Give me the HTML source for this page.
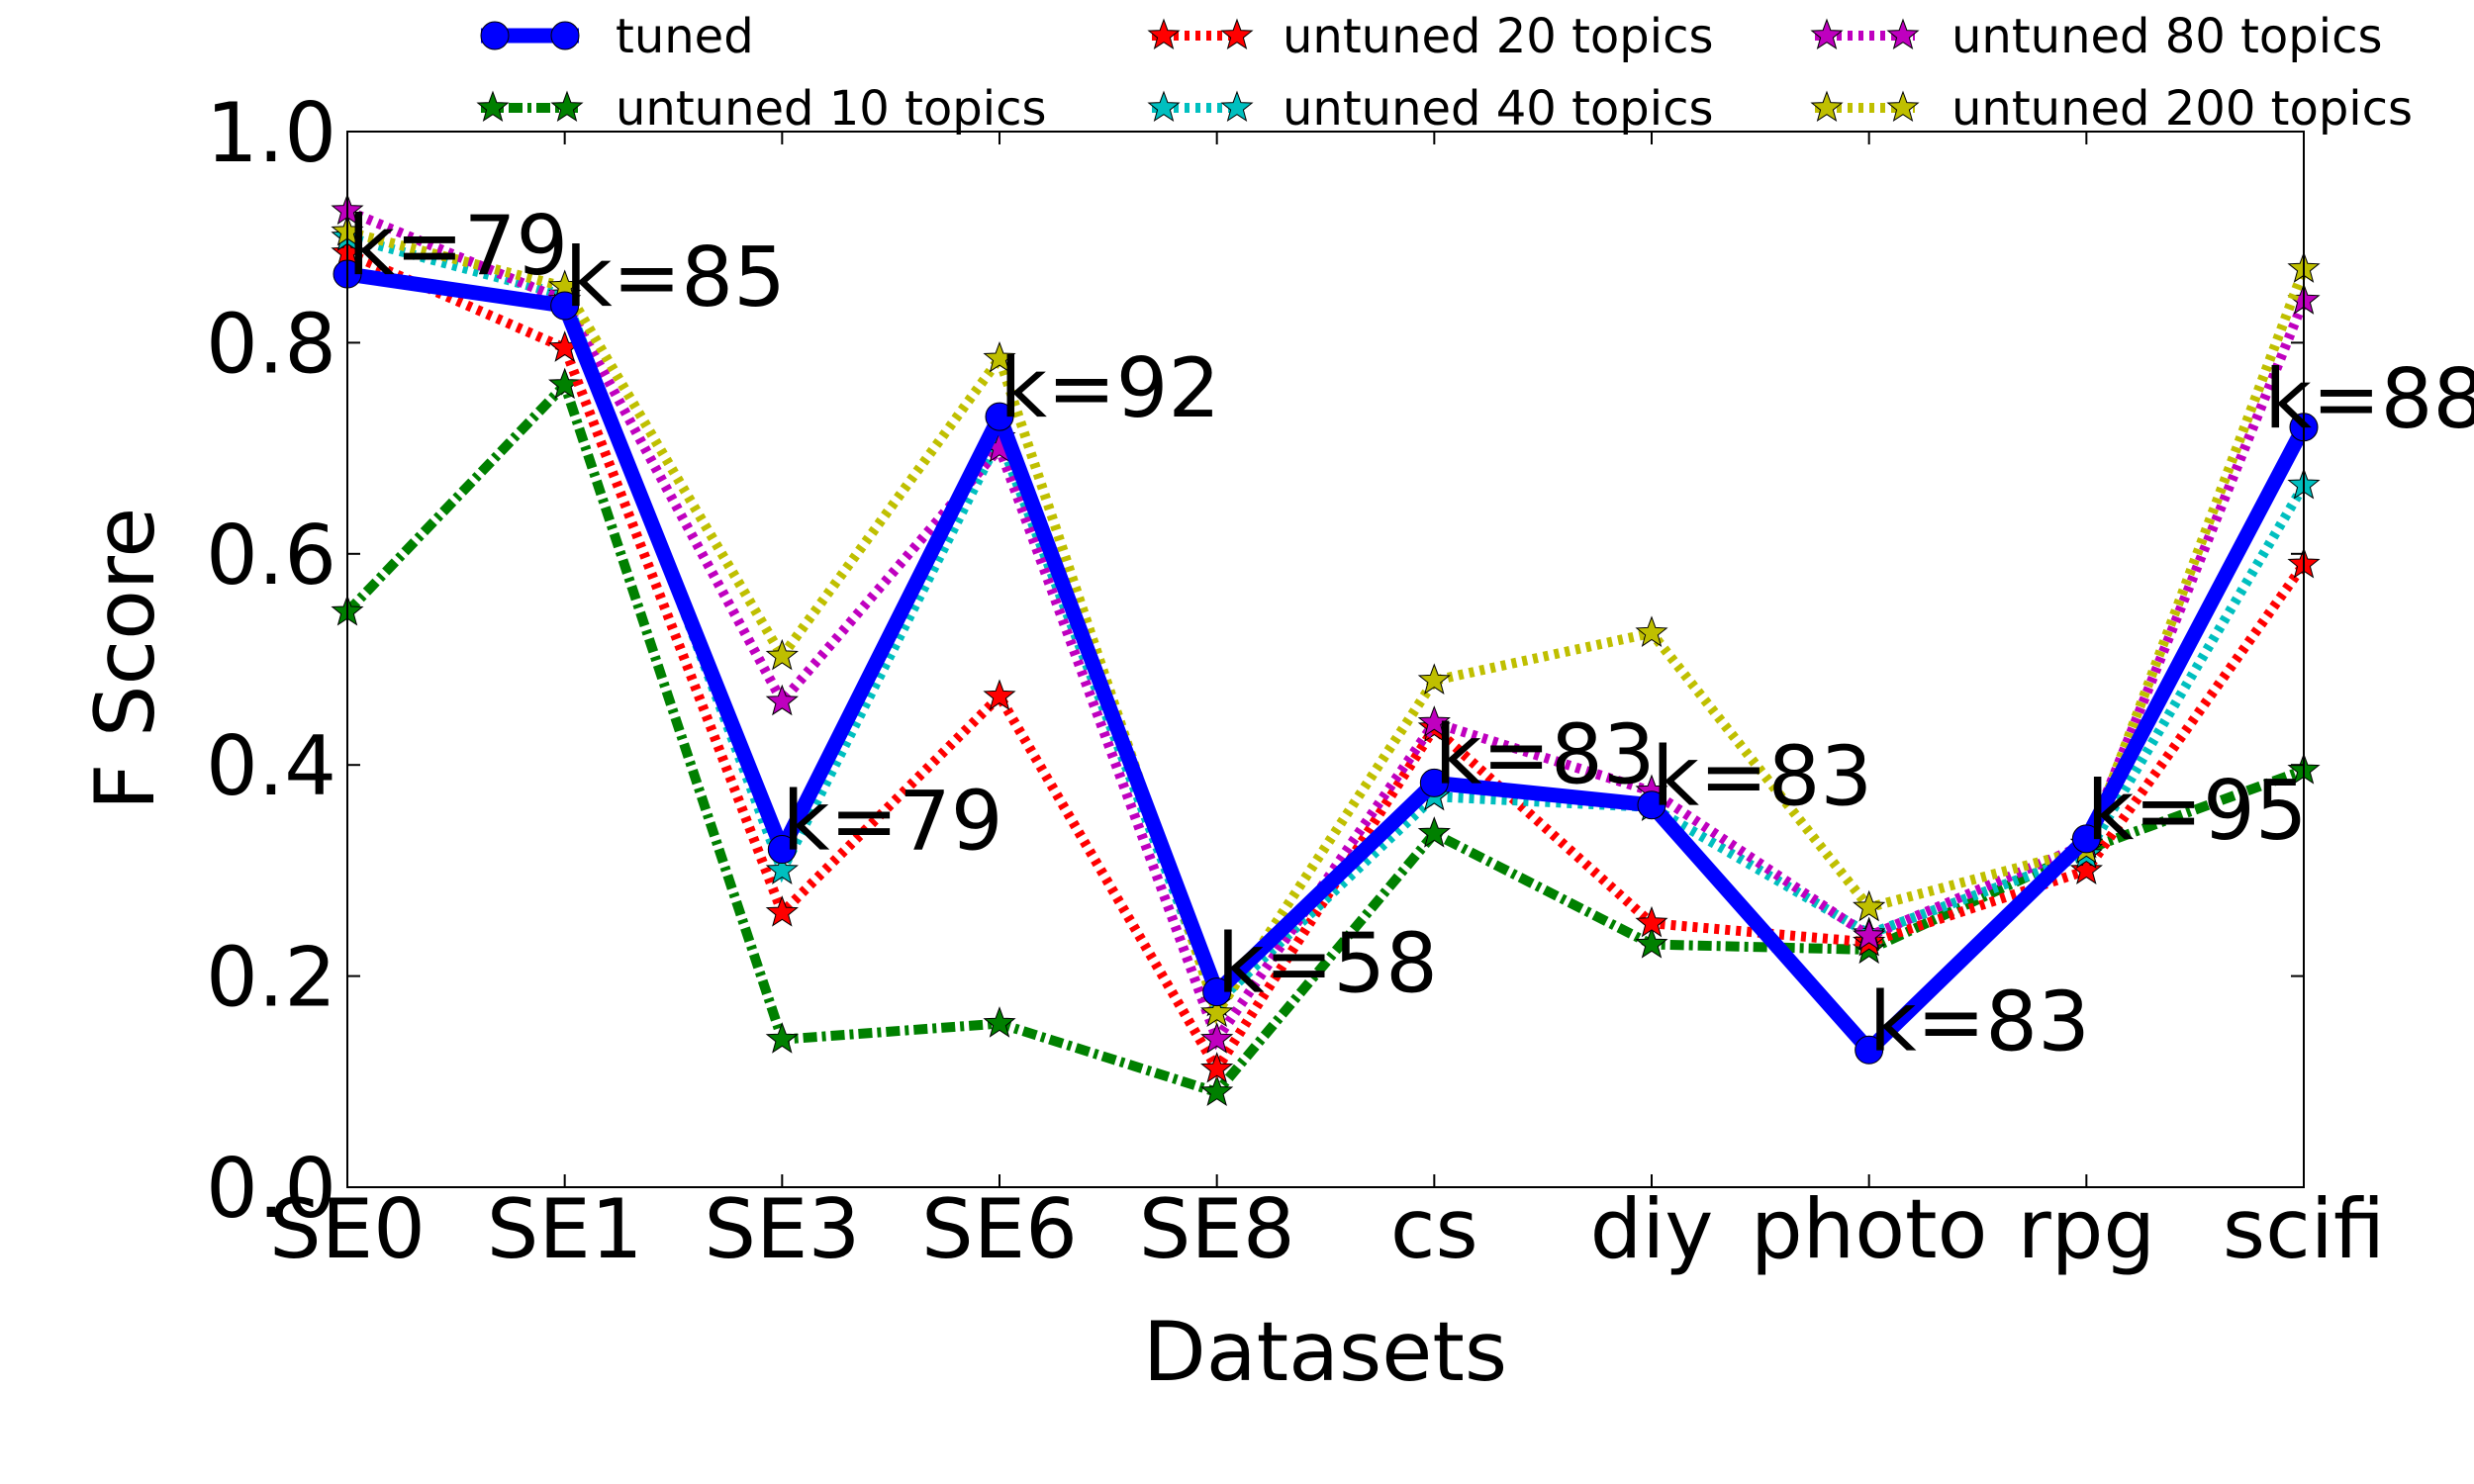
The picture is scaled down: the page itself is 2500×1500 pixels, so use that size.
<!DOCTYPE html>
<html><head><meta charset="utf-8"><style>
html,body{margin:0;padding:0;background:#fff;}
svg{display:block;font-family:"DejaVu Sans","Liberation Sans",sans-serif;}
</style></head><body>
<svg id="chart" width="2500" height="1500" viewBox="0 0 2500 1500" xmlns="http://www.w3.org/2000/svg">
<rect x="0" y="0" width="2500" height="1500" fill="#fff"/>
<g id="series"></g>
<g id="annots"></g>
<rect x="351" y="133" width="1977" height="1067" fill="none" stroke="#000" stroke-width="2"/>
<g id="ticks"></g>
<text x="0" y="0" transform="translate(155,666) rotate(-90)" text-anchor="middle" font-size="83">F Score</text>
<text x="1339" y="1395" text-anchor="middle" font-size="83">Datasets</text>
<g id="legend"></g>
</svg>
<script>
const categories = ["SE0","SE1","SE3","SE6","SE8","cs","diy","photo","rpg","scifi"];
const tuned = [0.865,0.835,0.32,0.73,0.185,0.383,0.362,0.13,0.33,0.72];
const untuned10 = [0.545,0.76,0.14,0.155,0.09,0.335,0.23,0.225,0.32,0.395];
const untuned20 = [0.885,0.795,0.26,0.465,0.112,0.435,0.25,0.232,0.30,0.59];
const untuned40 = [0.90,0.845,0.30,0.71,0.175,0.37,0.36,0.24,0.315,0.665];
const untuned80 = [0.925,0.84,0.46,0.70,0.14,0.44,0.375,0.238,0.325,0.84];
const untuned200 = [0.905,0.853,0.503,0.785,0.165,0.48,0.525,0.265,0.32,0.87];
const kLabels = ["k=79","k=85","k=79","k=92","k=58","k=83","k=83","k=83","k=95","k=88"];
const yTicks = [0.0,0.2,0.4,0.6,0.8,1.0];
const yTickLabels = ["0.0","0.2","0.4","0.6","0.8","1.0"];

const NS="http://www.w3.org/2000/svg";
const L=351,R=2328,T=133,B=1200;
function xs(i){return L+(R-L)*i/(categories.length-1);}
function ys(v){return B-(B-T)*v;}
function mk(tag,attrs,parent){const e=document.createElementNS(NS,tag);for(const k in attrs)e.setAttribute(k,attrs[k]);parent.appendChild(e);return e;}
function starPts(cx,cy,r){let p=[];for(let i=0;i<10;i++){const rr=i%2?r*0.42:r;const a=-Math.PI/2+i*Math.PI/5;p.push((cx+rr*Math.cos(a)).toFixed(1)+","+(cy+rr*Math.sin(a)).toFixed(1));}return p.join(" ");}

const ticks=document.getElementById('ticks');
yTicks.forEach((v,i)=>{
  const y=ys(v);
  const t1=mk('line',{x1:L,y1:y,x2:L+13,y2:y,stroke:'#000','stroke-width':2},ticks);
  
  
  mk('line',{x1:R,y1:y,x2:R-13,y2:y,stroke:'#000','stroke-width':2},ticks);
  const tx=mk('text',{x:340,y:y+30,'text-anchor':'end','font-size':83},ticks);
  tx.textContent=yTickLabels[i];
  
  
});
categories.forEach((c,i)=>{
  const x=xs(i);
  mk('line',{x1:x,y1:B,x2:x,y2:B-13,stroke:'#000','stroke-width':2},ticks);
  mk('line',{x1:x,y1:T,x2:x,y2:T+13,stroke:'#000','stroke-width':2},ticks);
  const tx=mk('text',{x:x,y:1271,'text-anchor':'middle','font-size':83},ticks);
  tx.textContent=c;
  
  
});

const seriesDefs=[
  {name:'untuned-10-topics',label:'untuned 10 topics',data:untuned10,color:'#008000',dash:'14 5 4 5'},
  {name:'untuned-20-topics',label:'untuned 20 topics',data:untuned20,color:'#ff0000',dash:'5 6'},
  {name:'untuned-40-topics',label:'untuned 40 topics',data:untuned40,color:'#00bfbf',dash:'5 6'},
  {name:'untuned-80-topics',label:'untuned 80 topics',data:untuned80,color:'#bf00bf',dash:'5 6'},
  {name:'untuned-200-topics',label:'untuned 200 topics',data:untuned200,color:'#bfbf00',dash:'5 6'}
];
const sg=document.getElementById('series');
seriesDefs.forEach(s=>{
  const g=mk('g',{},sg);
  
  
  const pts=s.data.map((v,i)=>xs(i)+','+ys(v)).join(' ');
  const pl=mk('polyline',{points:pts,fill:'none',stroke:s.color,'stroke-width':10,'stroke-dasharray':s.dash},g);
  
  
  s.data.forEach((v,i)=>{
    const st=mk('polygon',{points:starPts(xs(i),ys(v),16),fill:s.color,stroke:'#000','stroke-width':1},g);
    
    
  });
});
const tg=mk('g',{},sg);


const tl=mk('polyline',{points:tuned.map((v,i)=>xs(i)+','+ys(v)).join(' '),fill:'none',stroke:'#0000ff','stroke-width':15,'stroke-linejoin':'round'},tg);


tuned.forEach((v,i)=>{
  const c=mk('circle',{cx:xs(i),cy:ys(v),r:14,fill:'#0000ff',stroke:'#000','stroke-width':1},tg);
  
  
});
const ag=document.getElementById('annots');
tuned.forEach((v,i)=>{
  const last=i===categories.length-1;
  const t=mk('text',{x:xs(i)-(last?40:0),y:ys(v),'font-size':83},ag);
  t.textContent=kLabels[i];
  
  
});

const lg=document.getElementById('legend');


const legendItems=[
  {label:'tuned',tuned:true,col:0,row:0},
  {s:seriesDefs[0],col:0,row:1},
  {s:seriesDefs[1],col:1,row:0},
  {s:seriesDefs[2],col:1,row:1},
  {s:seriesDefs[3],col:2,row:0},
  {s:seriesDefs[4],col:2,row:1}
];
const colX=[[486,585,622],[1164,1262,1296],[1834,1935,1972]];
const rowY=[36,109];
legendItems.forEach(it=>{
  const [x1,x2,tx]=colX[it.col];const y=rowY[it.row];
  const g=mk('g',{},lg);
  
  
  if(it.tuned){
    mk('line',{x1:x1,y1:y,x2:x2,y2:y,stroke:'#0000ff','stroke-width':15},g);
    mk('circle',{cx:x1+14,cy:y,r:14,fill:'#0000ff',stroke:'#000','stroke-width':1},g);
    mk('circle',{cx:x2-14,cy:y,r:14,fill:'#0000ff',stroke:'#000','stroke-width':1},g);
  } else {
    mk('line',{x1:x1,y1:y,x2:x2,y2:y,stroke:it.s.color,'stroke-width':10,'stroke-dasharray':it.s.dash},g);
    mk('polygon',{points:starPts(x1+12,y,16),fill:it.s.color,stroke:'#000','stroke-width':1},g);
    mk('polygon',{points:starPts(x2-12,y,16),fill:it.s.color,stroke:'#000','stroke-width':1},g);
  }
  const t=mk('text',{x:tx,y:y+17,'font-size':48},g);
  t.textContent=it.tuned?'tuned':it.s.label;
});
</script>
</body></html>
